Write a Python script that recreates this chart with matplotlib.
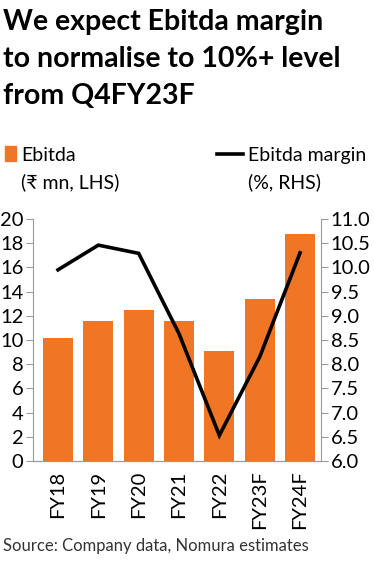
import matplotlib.pyplot as plt
import numpy as np

years = ["FY18", "FY19", "FY20", "FY21", "FY22", "FY23F", "FY24F"]
ebitda = [10.2, 11.6, 12.5, 11.6, 9.1, 13.4, 18.8]
margin = [9.95, 10.46, 10.29, 8.63, 6.53, 8.15, 10.3]

ORANGE = "#F07524"
GREY = "#9a9a9a"
FONT = ["Lato", "DejaVu Sans"]

plt.rcParams["font.family"] = FONT

fig = plt.figure(figsize=(3.74, 5.61), dpi=100)
W, H = 374, 561


def fx(px):
    return px / W


def fy(py):
    return 1 - py / H


# title
title = ["We expect Ebitda margin", "to normalise to 10%+ level", "from Q4FY23F"]
for i, line in enumerate(title):
    fig.text(fx(3), fy(30 + 37 * i), line, fontsize=20.5, fontweight="bold",
             va="baseline", ha="left")

# legend (drawn by hand to match the layout)
fig.patches.append(plt.Rectangle((fx(5), fy(161)), fx(11), 15 / H,
                                 transform=fig.transFigure, color=ORANGE))
fig.text(fx(21), fy(161), "Ebitda", fontsize=14, va="baseline")
fig.text(fx(21), fy(188), "(₹ mn, LHS)", fontsize=14, va="baseline")
fig.lines.append(plt.Line2D([fx(217), fx(243)], [fy(154), fy(154)],
                            transform=fig.transFigure, color="black", lw=2.6))
fig.text(fx(248), fy(161), "Ebitda margin", fontsize=14, va="baseline")
fig.text(fx(248), fy(188), "(%, RHS)", fontsize=14, va="baseline")

# axes
ax = fig.add_axes([fx(33), fy(461), fx(321 - 33), (461 - 219) / H])
x = np.arange(len(years))
ax.bar(x, ebitda, width=0.75, color=ORANGE, zorder=1)
ax.set_xlim(-0.62, 6.52)
ax.set_ylim(0, 20)
ax.set_yticks(np.arange(0, 21, 2))
ax.set_xticks(x)
ax.set_xticklabels(years, rotation=90, fontsize=14.5)
ax.tick_params(axis="x", length=0, pad=7)
ax.tick_params(axis="y", length=5, color=GREY, labelsize=14.5, pad=2)

ax2 = ax.twinx()
ax2.plot(x, margin, color="black", lw=2.6, solid_joinstyle="miter", zorder=3)
ax2.set_ylim(6, 11)
ax2.set_yticks(np.arange(6, 11.01, 0.5))
ax2.set_yticklabels([f"{v:.1f}" for v in np.arange(6, 11.01, 0.5)])
ax2.tick_params(axis="y", length=5, color=GREY, labelsize=14.5, pad=2)

for a in (ax, ax2):
    a.spines["top"].set_visible(False)
    a.spines["left"].set_color(GREY)
    a.spines["right"].set_color(GREY)
    a.spines["bottom"].set_color(GREY)
ax2.spines["left"].set_visible(False)
ax.spines["right"].set_visible(False)

fig.text(fx(3), fy(551), "Source: Company data, Nomura estimates",
         fontsize=12, va="baseline", color="#333333")

fig.savefig("out.png", dpi=100)
